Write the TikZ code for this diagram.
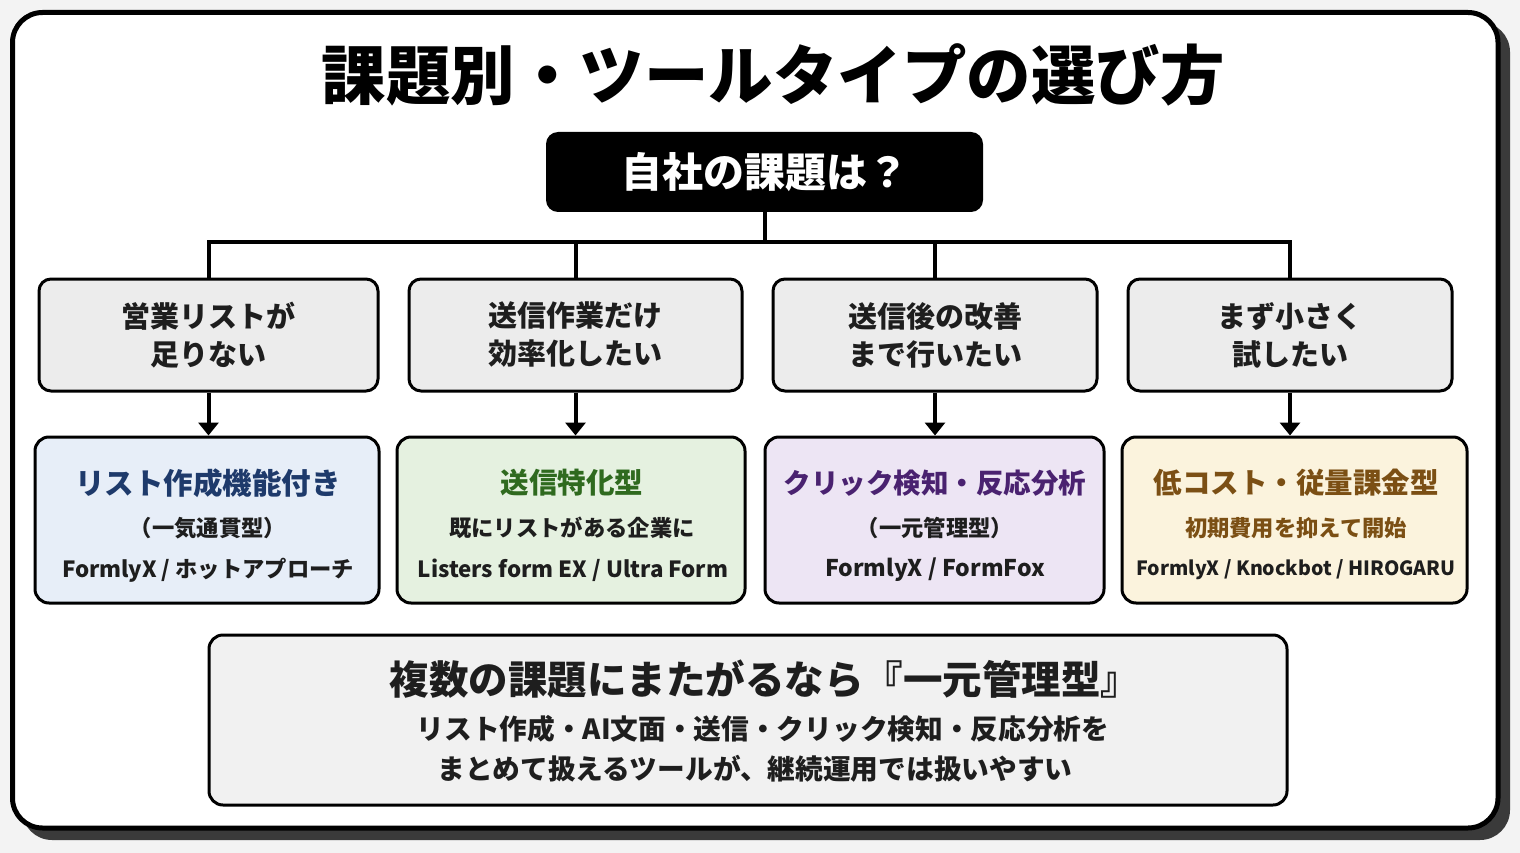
\documentclass[tikz,border=0pt]{standalone}
\usepackage{fontspec}
\setmainfont{Noto Sans CJK JP}
\usetikzlibrary{arrows.meta,positioning}
\definecolor{pagebg}{HTML}{F3F3F3}
\definecolor{shadowgray}{HTML}{3A3A3A}
\definecolor{askfill}{HTML}{ECECEC}
\definecolor{notefill}{HTML}{F1F1F1}
\definecolor{bluefill}{HTML}{E7EEF8}
\definecolor{bluetext}{HTML}{1E3A6B}
\definecolor{greenfill}{HTML}{E5F1E0}
\definecolor{greentext}{HTML}{2F6A1F}
\definecolor{purplefill}{HTML}{EDE5F4}
\definecolor{purpletext}{HTML}{4A2270}
\definecolor{yellowfill}{HTML}{FBF3DD}
\definecolor{browntext}{HTML}{7B4F14}
\definecolor{inktext}{HTML}{1E1E1E}
\newcommand{\fs}[1]{\fontsize{#1}{#1}\selectfont}

\begin{document}
\begin{tikzpicture}[x=1pt,y=-1pt,
  every node/.style={font=\bfseries,text=inktext,inner sep=0pt},
  ask/.style={rectangle,rounded corners=12pt,draw=black,line width=3pt,fill=askfill,minimum height=112pt,align=center,font=\bfseries\fontsize{29}{38}\selectfont},
  tool/.style={rectangle,rounded corners=14pt,draw=black,line width=3pt,minimum height=166pt},
  head/.style={font=\bfseries\fs{28.5}},
  sub/.style={font=\bfseries\fs{22.3}},
  link/.style={line width=4pt,draw=black},
  arr/.style={-{Triangle[length=13pt,width=20pt]},line width=4pt}
]
\useasboundingbox (0,0) rectangle (1520,853);
\fill[pagebg] (0,0) rectangle (1520,853);
\fill[shadowgray,rounded corners=30pt] (22,22) rectangle (1510,840);
\draw[fill=white,line width=5pt,rounded corners=30pt] (12.5,12.5) rectangle (1498,828);

\node[font=\bfseries\fs{64.5},text=black] (title) at (773,75) {課題別・ツールタイプの選び方};

\node[rectangle,rounded corners=12pt,fill=black,minimum width=437pt,minimum height=80pt,font=\bfseries\fs{41},text=white] (q) at (764.5,172) {自社の課題は？};

\node[ask,minimum width=339pt] (p1) at (208.5,335) {営業リストが\\足りない};
\node[ask,minimum width=333pt] (p2) at (575.5,335) {送信作業だけ\\効率化したい};
\node[ask,minimum width=324pt] (p3) at (935,335) {送信後の改善\\まで行いたい};
\node[ask,minimum width=324pt] (p4) at (1290,335) {まず小さく\\試したい};

\coordinate (bus) at (766,242);
\draw[link] (q.south) -- (q.south |- bus);
\draw[link] (p1.north) |- (p4.north |- bus) -- (p4.north);
\draw[link] (p2.north) -- (p2.north |- bus);
\draw[link] (p3.north) -- (p3.north |- bus);

\node[tool,fill=bluefill,minimum width=344pt] (s1) at (207,520) {};
\node[tool,fill=greenfill,minimum width=348pt] (s2) at (571,520) {};
\node[tool,fill=purplefill,minimum width=339pt] (s3) at (934.5,520) {};
\node[tool,fill=yellowfill,minimum width=345pt] (s4) at (1294.5,520) {};

\draw[arr] (p1.south) -- (p1.south |- s1.north);
\draw[arr] (p2.south) -- (p2.south |- s2.north);
\draw[arr] (p3.south) -- (p3.south |- s3.north);
\draw[arr] (p4.south) -- (p4.south |- s4.north);

\node[head,text=bluetext,font=\bfseries\fs{29.5}] (s1t) at (208,483) {リスト作成機能付き};
\node[sub] (s1a) at (208,528) {（一気通貫型）};
\node[sub] (s1b) at (208,570) {FormlyX / ホットアプローチ};

\node[head,text=greentext] (s2t) at (572,483) {送信特化型};
\node[sub] (s2a) at (572,528) {既にリストがある企業に};
\node[sub] (s2b) at (573,570) {Listers form EX / Ultra Form};

\node[head,text=purpletext,font=\bfseries\fs{27.5}] (s3t) at (935,483) {クリック検知・反応分析};
\node[sub] (s3a) at (935,528) {（一元管理型）};
\node[sub,font=\bfseries\fs{23}] (s3b) at (935,570) {FormlyX / FormFox};

\node[head,text=browntext] (s4t) at (1296,483) {低コスト・従量課金型};
\node[sub,text=browntext] (s4a) at (1296,528) {初期費用を抑えて開始};
\node[sub,font=\bfseries\fs{19.6}] (s4b) at (1296,570) {FormlyX / Knockbot / HIROGARU};

\node[rectangle,rounded corners=14pt,draw=black,line width=3pt,fill=notefill,minimum width=1078pt,minimum height=170pt] (note) at (748,720) {};
\node[font=\bfseries\fs{39.5}] (notet) at (765,679) {複数の課題にまたがるなら『一元管理型』};
\node[font=\bfseries\fs{27.7}] (notea) at (763,729) {リスト作成・AI文面・送信・クリック検知・反応分析を};
\node[font=\bfseries\fs{27.7}] (noteb) at (755,769) {まとめて扱えるツールが、継続運用では扱いやすい};
\end{tikzpicture}
\end{document}
